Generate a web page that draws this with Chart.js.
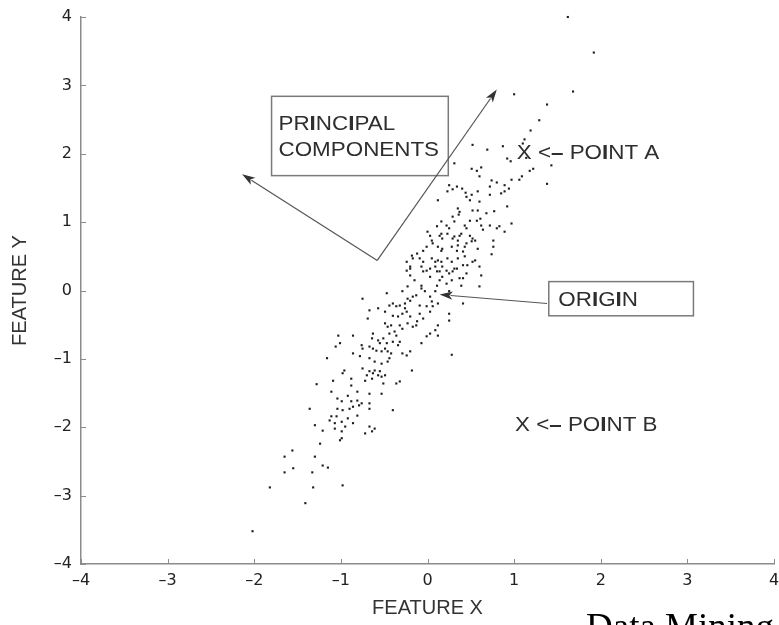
<!DOCTYPE html>
<html><head><meta charset="utf-8">
<script src="https://cdn.jsdelivr.net/npm/chart.js@4.4.1/dist/chart.umd.min.js"></script>
<style>html,body{margin:0;padding:0;background:#fff;overflow:hidden}#wrap{width:779px;height:625px;position:relative}</style>
</head><body><div id="wrap"><canvas id="c" width="779" height="625"></canvas></div>
<script>
// ---- data (feature values) ----
const featureX = [
1.62,1.92,1.68,1.00,1.38,1.29,1.19,1.12,1.10,0.52,
0.69,0.87,0.92,0.96,1.14,1.43,0.31,0.51,0.57,0.62,
1.18,1.22,1.09,1.06,1.38,0.60,0.74,0.80,0.97,0.89,
0.94,0.72,0.25,0.29,0.34,0.23,0.40,0.44,0.58,0.85,
0.89,0.72,0.51,
0.12,0.45,0.49,0.60,0.92,0.77,0.35,0.37,0.36,0.52,
0.58,0.68,0.49,0.57,0.61,0.29,0.31,0.16,0.43,0.45,
0.62,0.64,0.72,0.80,0.83,0.89,0.97,0.00,0.03,0.11,
0.14,0.17,0.16,0.23,0.29,0.31,0.35,0.37,0.39,0.49,
0.52,0.51,0.55,0.76,0.22,0.25,
0.45,0.43,0.58,0.76,0.05,0.06,0.12,0.17,0.16,-0.05,
-0.01,0.28,0.34,0.35,0.41,0.43,0.74,0.55,-0.18,-0.17,
-0.12,-0.09,-0.05,0.05,0.09,0.12,0.16,0.23,0.28,0.35,
0.41,0.52,-0.24,-0.20,-0.24,-0.20,-0.07,-0.01,0.03,0.09,
0.22,0.25,0.29,0.34,0.45,0.46,0.60,0.62,0.14,0.17,
0.31,
0.17,0.41,0.37,0.39,0.60,-0.05,0.03,0.11,0.14,0.28,
0.22,0.25,-0.15,-0.20,-0.07,-0.03,-0.13,-0.29,-0.23,-0.47,
-0.40,-0.49,-0.32,-0.26,-0.24,0.05,0.06,0.11,0.09,0.03,
0.12,-0.07,-0.17,-0.20,-0.23,-0.26,-0.75,-0.44,-0.36,-0.09,
-0.01,0.25,0.41,
-0.67,-0.57,-0.69,0.03,-0.09,-0.05,-0.20,-0.40,-0.34,-0.29,
0.25,-0.13,-0.17,-0.12,0.12,0.09,0.12,0.03,-0.01,-0.49,
-0.46,-0.42,-0.32,-0.29,-0.23,-0.38,-0.36,-0.44,-0.63,-0.64,
-0.57,-0.55,-0.51,-0.47,-0.40,-0.34,-0.32,-1.03,-1.01,-1.06,
-0.86,-0.07,
-0.76,-0.75,-0.67,-0.63,-0.59,-0.53,-0.49,-0.46,-0.42,-0.29,
-0.24,-0.20,0.28,-0.86,-0.78,-0.67,-0.61,-0.53,-0.46,-0.44,
-1.16,-0.96,-0.75,-0.67,-0.61,-0.55,-0.18,-0.98,-0.63,-0.57,
-0.53,-0.49,-0.64,-0.70,-0.72,-0.88,-1.09,-1.28,
-0.88,-0.51,-0.53,-0.36,-0.32,-1.11,-0.92,-0.81,-0.67,-1.04,
-0.99,-0.88,-0.81,-0.76,-0.79,-0.67,-0.67,-1.36,-1.04,-0.98,
-0.90,-0.86,-0.40,-1.11,-1.13,-1.05,-0.92,-0.81,
-1.30,-1.21,-1.07,-0.99,-0.95,-1.07,-0.99,-0.86,-0.67,-0.61,
-0.72,-0.64,-1.01,-0.99,-1.24,-1.56,-1.65,-1.30,-1.21,-1.15,
-1.55,-1.65,-1.33,-1.82,-1.32,-0.98,-1.41,-2.02
];
const featureY = [
4.00,3.48,2.91,2.87,2.72,2.49,2.34,2.21,2.15,2.13,
2.06,2.11,1.93,1.89,1.94,1.83,1.86,1.78,1.75,1.80,
1.75,1.78,1.67,1.62,1.56,1.67,1.61,1.58,1.62,1.54,
1.49,1.52,1.54,1.48,1.52,1.45,1.49,1.43,1.45,1.42,
1.45,1.40,1.40,
1.32,1.37,1.32,1.30,1.23,1.16,1.20,1.15,1.11,1.17,
1.17,1.13,1.02,1.02,1.05,1.08,1.01,1.01,0.95,0.91,
0.95,0.89,0.95,0.91,0.94,0.86,0.98,0.86,0.80,0.94,
0.80,0.76,0.83,0.83,0.76,0.79,0.73,0.80,0.83,0.80,
0.76,0.72,0.73,0.73,0.95,0.91,
0.69,0.64,0.61,0.64,0.73,0.69,0.64,0.61,0.58,0.58,
0.64,0.64,0.58,0.66,0.57,0.50,0.53,0.44,0.51,0.47,
0.54,0.47,0.42,0.47,0.42,0.44,0.42,0.47,0.42,0.47,
0.37,0.42,0.42,0.35,0.29,0.32,0.35,0.29,0.32,0.35,
0.29,0.25,0.28,0.32,0.25,0.37,0.35,0.22,0.28,0.35,
0.32,
0.20,0.18,0.18,0.07,0.06,0.28,0.20,0.28,0.15,0.15,
0.10,-0.01,0.15,0.22,0.07,-0.01,-0.07,-0.01,-0.12,-0.04,
-0.19,-0.31,-0.22,-0.26,-0.31,-0.16,-0.23,0.07,-0.01,-0.09,
-0.19,0.03,-0.09,-0.15,0.06,-0.19,-0.12,-0.22,-0.23,-0.22,
-0.23,-0.34,-0.19,
-0.29,-0.26,-0.41,-0.31,-0.34,-0.41,-0.38,-0.37,-0.38,-0.34,
-0.44,-0.51,-0.53,-0.45,-0.51,-0.58,-0.66,-0.63,-0.67,-0.48,
-0.53,-0.51,-0.51,-0.56,-0.48,-0.60,-0.66,-0.63,-0.63,-0.70,
-0.73,-0.77,-0.70,-0.77,-0.75,-0.80,-0.75,-0.66,-0.77,-0.82,
-0.66,-0.77,
-0.80,-0.85,-0.82,-0.85,-0.88,-0.89,-0.85,-0.89,-0.92,-0.92,
-0.95,-0.89,-0.94,-0.92,-0.96,-0.99,-1.04,-1.07,-1.04,-0.99,
-0.99,-1.17,-1.14,-1.18,-1.17,-1.18,-1.17,-1.21,-1.21,-1.24,
-1.26,-1.24,-1.29,-1.24,-1.32,-1.29,-1.32,-1.37,
-1.39,-1.36,-1.51,-1.36,-1.33,-1.48,-1.54,-1.48,-1.51,-1.58,
-1.62,-1.62,-1.61,-1.65,-1.68,-1.65,-1.73,-1.73,-1.73,-1.75,
-1.73,-1.70,-1.75,-1.84,-1.90,-1.84,-1.87,-1.83,
-1.97,-2.05,-1.94,-1.92,-1.99,-2.02,-2.06,-1.94,-1.99,-2.02,
-2.09,-2.06,-2.19,-2.16,-2.24,-2.34,-2.43,-2.43,-2.56,-2.59,
-2.60,-2.66,-2.66,-2.88,-2.88,-2.85,-3.11,-3.52
];
const axisMin = -4, axisMax = 4, tickStep = 1;
const titleX = 'FEATURE X';
const titleY = 'FEATURE Y';
const caption = 'Data Mining';

// annotation anchors in data units
const pcVertex = [-0.58, 0.44];
const pcTips = [[-2.14, 1.70], [0.80, 2.94]];
const pcBox = [-1.80, 2.84, 0.24, 1.68];
const pcLine1 = [['PR',0],['I',1],['NC',0],['I',1],['PAL',0]];
const pcLine2 = [['COMPONENTS',0]];
const pcText1At = [-1.72, 2.35];
const pcText2At = [-1.72, 1.96];
const originBox = [1.40, 0.13, 3.07, -0.37];
const originText = [['OR',0],['I',1],['G',0],['I',1],['N',0]];
const originTextAt = [1.51, -0.22];
const originArrow = [[1.38, -0.19], [0.14, -0.06]];
const pointAText = [['X <',0],['\u2013',1],[' PO',0],['I',1],['NT A',0]];
const pointAAt = [1.03, 1.93];
const pointBText = [['X <',0],['\u2013',1],[' PO',0],['I',1],['NT B',0]];
const pointBAt = [1.01, -2.06];

const n = Math.min(featureX.length, featureY.length);
const points = [];
for (let i = 0; i < n; i++) points.push({x: featureX[i], y: featureY[i]});

const FONT = '"Liberation Sans", Arial, Helvetica, sans-serif';
const TICKFONT = '"DejaVu Sans", "Liberation Sans", sans-serif';

function drawSegs(ctx, segs, x, y, size, sx) {
  ctx.save();
  ctx.translate(x, y);
  ctx.scale(sx, 1);
  ctx.textBaseline = 'alphabetic';
  ctx.textAlign = 'left';
  let cx = 0;
  for (const [t, b] of segs) {
    ctx.font = (b ? 'bold ' : '') + size + 'px ' + FONT;
    ctx.fillText(t, cx, 0);
    cx += ctx.measureText(t).width;
  }
  ctx.restore();
}
function drawArrow(ctx, x1, y1, x2, y2) {
  const a = Math.atan2(y2 - y1, x2 - x1);
  const L = 13, W = 4.2;
  ctx.beginPath();
  ctx.moveTo(x1, y1);
  ctx.lineTo(x2 - Math.cos(a) * (L - 2), y2 - Math.sin(a) * (L - 2));
  ctx.stroke();
  ctx.beginPath();
  ctx.moveTo(x2, y2);
  ctx.lineTo(x2 - Math.cos(a) * L - Math.sin(a) * W, y2 - Math.sin(a) * L + Math.cos(a) * W);
  ctx.lineTo(x2 - Math.cos(a) * L * 0.75, y2 - Math.sin(a) * L * 0.75);
  ctx.lineTo(x2 - Math.cos(a) * L + Math.sin(a) * W, y2 - Math.sin(a) * L - Math.cos(a) * W);
  ctx.closePath();
  ctx.fill();
}

const annotate = {
  id: 'annotate',
  afterDatasetsDraw(chart) {
    const ctx = chart.ctx, xs = chart.scales.x, ys = chart.scales.y;
    const P = (p) => [xs.getPixelForValue(p[0]), ys.getPixelForValue(p[1])];
    ctx.save();
    // inward tick marks
    ctx.strokeStyle = '#8c8c8c';
    ctx.lineWidth = 1;
    const ca = chart.chartArea;
    xs.ticks.forEach(t => {
      const px = Math.round(xs.getPixelForValue(t.value)) + 0.5;
      ctx.beginPath(); ctx.moveTo(px, ca.bottom); ctx.lineTo(px, ca.bottom - 5); ctx.stroke();
    });
    ys.ticks.forEach(t => {
      const py = Math.round(ys.getPixelForValue(t.value)) + 0.5;
      ctx.beginPath(); ctx.moveTo(ca.left, py); ctx.lineTo(ca.left + 5, py); ctx.stroke();
    });
    // boxes
    ctx.strokeStyle = '#7a7a7a';
    ctx.lineWidth = 1.5;
    const b1 = P([pcBox[0], pcBox[1]]), b2 = P([pcBox[2], pcBox[3]]);
    ctx.strokeRect(b1[0], b1[1], b2[0] - b1[0], b2[1] - b1[1]);
    const o1 = P([originBox[0], originBox[1]]), o2 = P([originBox[2], originBox[3]]);
    ctx.strokeRect(o1[0], o1[1], o2[0] - o1[0], o2[1] - o1[1]);
    // arrows
    ctx.strokeStyle = '#555';
    ctx.fillStyle = '#333';
    ctx.lineWidth = 1.2;
    const v = P(pcVertex);
    pcTips.forEach(tp => { const t = P(tp); drawArrow(ctx, v[0], v[1], t[0], t[1]); });
    const oa = P(originArrow[0]), ob = P(originArrow[1]);
    drawArrow(ctx, oa[0], oa[1], ob[0], ob[1]);
    // texts
    ctx.fillStyle = '#2e2e2e';
    const sx = 1.12, fs = 20;
    let q = P(pcText1At); drawSegs(ctx, pcLine1, q[0], q[1], fs, sx);
    q = P(pcText2At); drawSegs(ctx, pcLine2, q[0], q[1], fs, sx);
    q = P(originTextAt); drawSegs(ctx, originText, q[0], q[1], fs, sx);
    q = P(pointAAt); drawSegs(ctx, pointAText, q[0], q[1], fs, sx);
    q = P(pointBAt); drawSegs(ctx, pointBText, q[0], q[1], fs, sx);
    ctx.restore();
  },
  afterDraw(chart) {
    const ctx = chart.ctx;
    ctx.save();
    ctx.fillStyle = '#000';
    ctx.font = '37px "Liberation Serif", "Times New Roman", serif';
    ctx.textBaseline = 'alphabetic';
    ctx.textAlign = 'left';
    ctx.fillText(caption, 586, 639);
    ctx.restore();
  }
};

const tickFmt = (v) => (v < 0 ? '\u2013' + Math.abs(v) : String(v));

new Chart(document.getElementById('c'), {
  type: 'scatter',
  data: {
    datasets: [{
      data: points,
      clip: false,
      pointStyle: 'rect',
      pointRadius: 1.5,
      pointBackgroundColor: '#1c1c1c',
      pointBorderWidth: 0
    }]
  },
  options: {
    responsive: false,
    animation: false,
    events: [],
    layout: { padding: { left: 0, top: 17, right: 5, bottom: 0 } },
    plugins: { legend: { display: false }, tooltip: { enabled: false } },
    scales: {
      x: {
        type: 'linear', min: axisMin, max: axisMax,
        ticks: { stepSize: tickStep, callback: tickFmt, padding: 7, color: '#222', font: { size: 16, family: TICKFONT }, maxRotation: 0, autoSkip: false },
        grid: { display: true, drawOnChartArea: false, drawTicks: false },
        border: { display: true, color: '#8c8c8c', width: 1.5 },
        title: { display: true, text: titleX, color: '#333', font: { size: 20, family: FONT }, padding: { top: 0, bottom: 5 } },
        afterFit(s) { s.height = 61; s.paddingLeft = 0; s.paddingRight = 0; }
      },
      y: {
        type: 'linear', min: axisMin, max: axisMax,
        ticks: { stepSize: tickStep, callback: tickFmt, padding: 9, color: '#222', font: { size: 16, family: TICKFONT }, autoSkip: false },
        grid: { display: true, drawOnChartArea: false, drawTicks: false },
        border: { display: true, color: '#8c8c8c', width: 1.5 },
        title: { display: true, text: titleY, color: '#333', font: { size: 20, family: FONT }, padding: { top: 8, bottom: 0 } },
        afterFit(s) { s.width = 81; s.paddingTop = 0; s.paddingBottom = 0; }
      }
    }
  },
  plugins: [annotate]
});
</script>
</body></html>
